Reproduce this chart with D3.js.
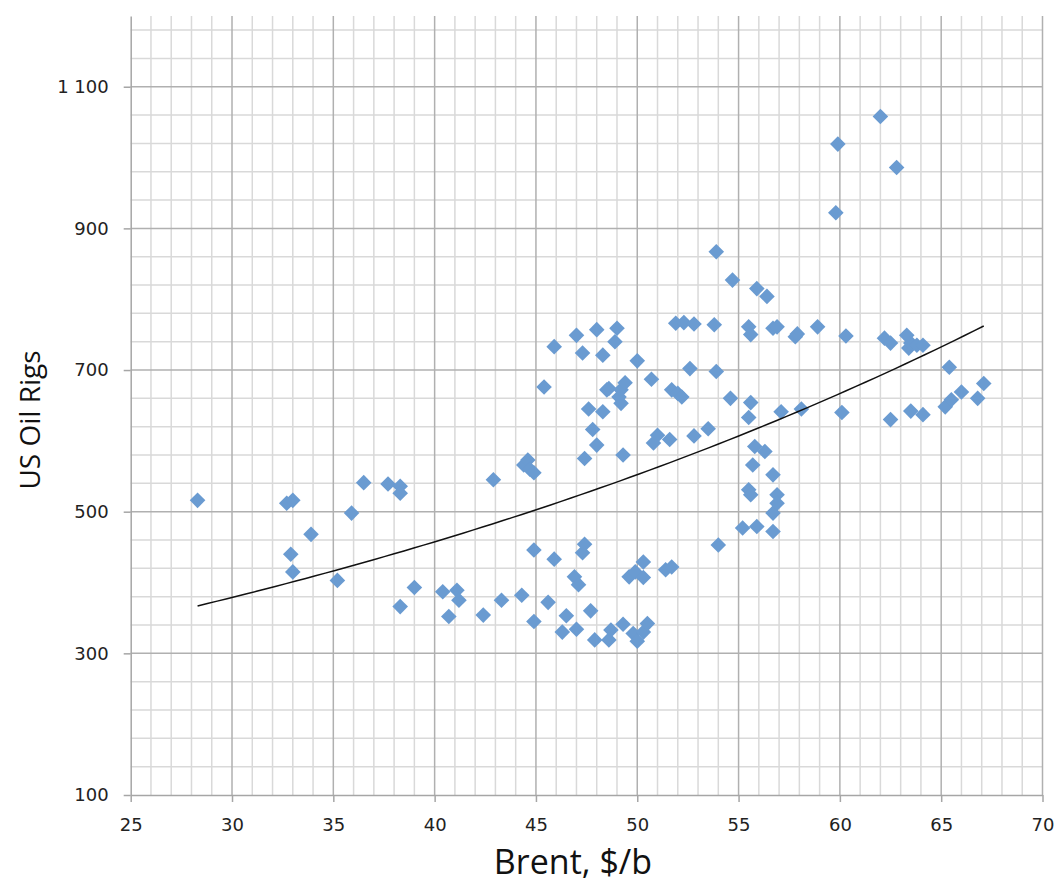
<!DOCTYPE html>
<html>
<head>
<meta charset="utf-8">
<script src="https://cdn.jsdelivr.net/npm/d3@7"></script>
<style>
  body { margin: 0; background: #fff; }
  svg { display: block; }
  .tick-label { font-family: "DejaVu Sans", sans-serif; font-size: 18px; fill: #222; }
  .axis-title { font-family: "Open Sans", sans-serif; font-size: 28px; fill: #111; }
  .x-title { font-size: 34px; }
</style>
</head>
<body>
<div id="chart"></div>
<script>
"use strict";

// scatter values: Brent price vs number of US oil rigs
var brent = [
  28.3, 32.7, 33.0, 32.9, 33.0, 33.9, 35.2, 35.9, 36.5, 37.7,
  38.3, 38.3, 38.3, 39.0, 40.4, 40.7, 41.1, 41.2, 42.4, 42.9,
  43.3, 44.3, 44.4, 44.6, 44.7, 44.9, 44.9, 44.9, 45.4, 45.6,
  45.9, 45.9, 46.3, 46.5, 46.9, 47.0, 47.0, 47.1, 47.3, 47.3,
  47.4, 47.4, 47.6, 47.7, 47.8, 47.9, 48.0, 48.0, 48.3, 48.3,
  48.5, 48.6, 48.6, 48.7, 48.9, 49.0, 49.1, 49.2, 49.2, 49.3,
  49.3, 49.4, 49.6, 49.8, 49.9, 50.0, 50.0, 50.3, 50.3, 50.3,
  50.5, 50.7, 50.8, 51.0, 51.4, 51.6, 51.7, 51.7, 51.9, 52.0,
  52.2, 52.3, 52.6, 52.8, 52.8, 53.5, 53.8, 53.9, 53.9, 54.0,
  54.6, 54.7, 55.2, 55.5, 55.5, 55.5, 55.6, 55.6, 55.6, 55.7,
  55.8, 55.9, 55.9, 56.3, 56.4, 56.7, 56.7, 56.7, 56.7, 56.9,
  56.9, 56.9, 57.1, 57.8, 57.9, 58.1, 58.9, 59.8, 59.9, 60.1,
  60.3, 62.0, 62.2, 62.5, 62.5, 62.8, 63.3, 63.4, 63.5, 63.5,
  63.8, 64.1, 64.1, 65.2, 65.4, 65.5, 66.0, 66.8, 67.1
];
var rigs = [
  516, 512, 516, 440, 415, 468, 403, 498, 541, 539,
  536, 526, 366, 393, 387, 352, 389, 375, 354, 545,
  375, 382, 566, 573, 560, 555, 446, 345, 676, 372,
  733, 433, 330, 353, 408, 334, 749, 397, 724, 442,
  454, 575, 645, 360, 616, 319, 594, 757, 721, 641,
  672, 674, 319, 333, 740, 759, 662, 672, 653, 580,
  341, 682, 408, 328, 415, 713, 317, 330, 429, 407,
  342, 687, 597, 608, 418, 602, 422, 672, 766, 667,
  662, 767, 702, 765, 607, 617, 764, 698, 867, 453,
  660, 827, 477, 761, 633, 531, 750, 654, 524, 566,
  592, 815, 479, 585, 804, 759, 552, 498, 472, 761,
  524, 512, 641, 747, 751, 645, 761, 922, 1019, 640,
  748, 1058, 745, 738, 630, 986, 749, 731, 738, 642,
  735, 735, 637, 648, 704, 658, 669, 660, 681
];

var xTicks = [25, 30, 35, 40, 45, 50, 55, 60, 65, 70];
var yTicks = [100, 300, 500, 700, 900, 1100];
var yTickLabels = ["100", "300", "500", "700", "900", "1 100"];

var width = 1056, height = 886;
var plotLeft = 130.7, plotRight = 1042.5, plotTop = 15.9, plotBottom = 795;

var x = d3.scaleLinear().domain([25, 70]).range([plotLeft, plotRight]);
var y = d3.scaleLinear().domain([100, 1200]).range([plotBottom, plotTop]);

var svg = d3.select("#chart").append("svg")
  .attr("width", width)
  .attr("height", height);

// minor grid
var xMinor = d3.range(26, 70).filter(function(v) { return v % 5 !== 0; });
var yMinor = d3.range(140, 1200, 40).filter(function(v) { return (v - 100) % 200 !== 0; });

svg.append("g").selectAll("line")
  .data(xMinor).enter().append("line")
  .attr("x1", d => x(d)).attr("x2", d => x(d))
  .attr("y1", plotTop).attr("y2", plotBottom)
  .attr("stroke", "#d9d9d9").attr("stroke-width", 1.5);

svg.append("g").selectAll("line")
  .data(yMinor).enter().append("line")
  .attr("x1", plotLeft).attr("x2", plotRight)
  .attr("y1", d => y(d)).attr("y2", d => y(d))
  .attr("stroke", "#d9d9d9").attr("stroke-width", 1.5);

// major grid
svg.append("g").selectAll("line")
  .data(xTicks.slice(1)).enter().append("line")
  .attr("x1", d => x(d)).attr("x2", d => x(d))
  .attr("y1", plotTop).attr("y2", plotBottom)
  .attr("stroke", "#b0b0b0").attr("stroke-width", 1.5);

svg.append("g").selectAll("line")
  .data(yTicks.slice(1)).enter().append("line")
  .attr("x1", plotLeft).attr("x2", plotRight)
  .attr("y1", d => y(d)).attr("y2", d => y(d))
  .attr("stroke", "#b0b0b0").attr("stroke-width", 1.5);

// axes
var xAxis = d3.axisBottom(x).tickValues(xTicks).tickSize(7).tickSizeOuter(0).tickPadding(16);
var yAxis = d3.axisLeft(y).tickValues(yTicks).tickSize(7).tickSizeOuter(0).tickPadding(15)
  .tickFormat(function(d, i) { return yTickLabels[i]; });

var gx = svg.append("g").attr("transform", "translate(0," + plotBottom + ")").call(xAxis);
var gy = svg.append("g").attr("transform", "translate(" + plotLeft + ",0)").call(yAxis);

[gx, gy].forEach(function(g) {
  g.select(".domain").attr("stroke", "#a6a6a6").attr("stroke-width", 1.5);
  g.selectAll(".tick line").attr("stroke", "#a6a6a6").attr("stroke-width", 1.5);
  g.selectAll(".tick text").attr("class", "tick-label").attr("fill", null);
});

// diamonds
var pts = brent.map(function(b, i) { return [b, rigs[i]]; });
svg.append("g").selectAll("path")
  .data(pts).enter().append("path")
  .attr("d", "M0,-7.8L7.8,0L0,7.8L-7.8,0Z")
  .attr("transform", d => "translate(" + x(d[0]) + "," + y(d[1]) + ")")
  .attr("fill", "#6a9bd1");

// exponential trendline fitted on the points (ln y = ln a + b x)
var mx = d3.mean(pts, d => d[0]);
var my = d3.mean(pts, d => Math.log(d[1]));
var sxy = d3.sum(pts, d => (d[0] - mx) * (Math.log(d[1]) - my));
var sxx = d3.sum(pts, d => (d[0] - mx) * (d[0] - mx));
var b = sxy / sxx;
var a = Math.exp(my - b * mx);
var xs = d3.extent(brent);
var trend = d3.range(xs[0], xs[1] + 0.001, (xs[1] - xs[0]) / 80).map(function(v) { return [v, a * Math.exp(b * v)]; });

svg.append("path")
  .datum(trend)
  .attr("d", d3.line().x(d => x(d[0])).y(d => y(d[1])))
  .attr("fill", "none")
  .attr("stroke", "#111")
  .attr("stroke-width", 1.5);

// axis titles
svg.append("text")
  .attr("class", "axis-title x-title")
  .attr("x", 573).attr("y", 874)
  .attr("text-anchor", "middle")
  .text("Brent, $/b");

svg.append("text")
  .attr("class", "axis-title")
  .attr("transform", "translate(40,420) rotate(-90)")
  .attr("text-anchor", "middle")
  .text("US Oil Rigs");
</script>
</body>
</html>
